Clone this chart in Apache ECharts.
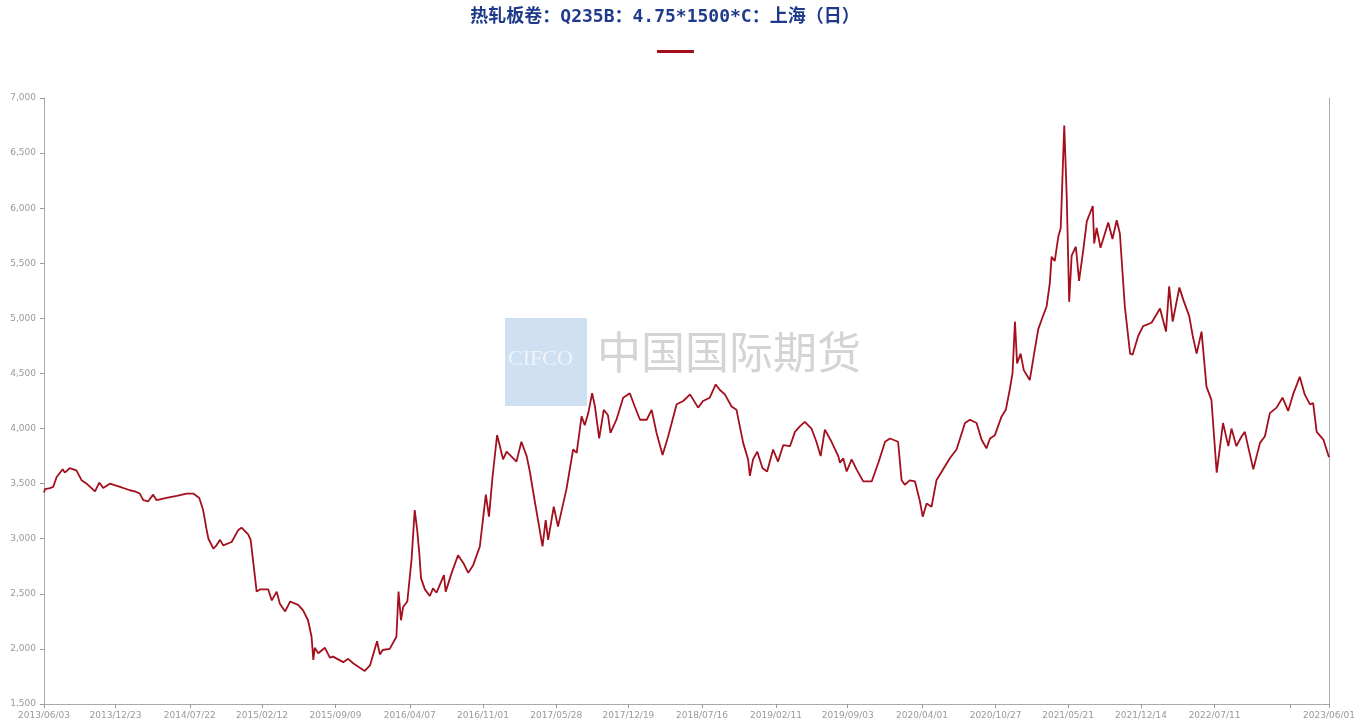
<!DOCTYPE html>
<html>
<head>
<meta charset="utf-8">
<script src="https://cdn.jsdelivr.net/npm/echarts@6/dist/echarts.min.js"></script>
<style>
html,body{margin:0;padding:0;background:#fff;}
#chart{width:1360px;height:728px;}
</style>
</head>
<body>
<div id="chart"></div>
<script>
const titleText = '热轧板卷：Q235B：4.75*1500*C：上海（日）';
const seriesName = ' ';
const tickLabels = ['2013/06/03','2013/12/23','2014/07/22','2015/02/12','2015/09/09','2016/04/07','2016/11/01','2017/05/28','2017/12/19','2018/07/16','2019/02/11','2019/09/03','2020/04/01','2020/10/27','2021/05/21','2021/12/14','2022/07/11','2023/06/01'];
const extraTicks = ['2023/02/10'];

const dates = [
'2013-06-03','2013-06-06','2013-06-20','2013-06-29','2013-07-09','2013-07-26','2013-08-01','2013-08-15','2013-09-03','2013-09-18',
'2013-10-02','2013-10-26','2013-11-07','2013-11-18','2013-12-07','2014-01-05','2014-02-02','2014-02-16','2014-03-02','2014-03-12',
'2014-03-26','2014-04-09','2014-04-19','2014-05-17','2014-06-15','2014-07-13','2014-08-01','2014-08-18','2014-08-29','2014-09-08',
'2014-09-13','2014-09-27','2014-10-06','2014-10-16','2014-10-25','2014-11-18','2014-12-07','2014-12-16','2015-01-04','2015-01-11',
'2015-01-23','2015-01-28','2015-02-06','2015-03-02','2015-03-12','2015-03-26','2015-04-04','2015-04-19','2015-05-03','2015-05-26',
'2015-06-09','2015-06-23','2015-07-03','2015-07-08','2015-07-12','2015-07-22','2015-08-10','2015-08-24','2015-09-02','2015-10-01',
'2015-10-15','2015-10-29','2015-12-01','2015-12-16','2016-01-05','2016-01-13','2016-01-21','2016-02-10','2016-02-29','2016-03-06',
'2016-03-13','2016-03-19','2016-03-31','2016-04-12','2016-04-21','2016-04-28','2016-05-04','2016-05-09','2016-05-20','2016-06-03',
'2016-06-12','2016-06-22','2016-07-13','2016-07-18','2016-08-04','2016-08-22','2016-09-06','2016-09-20','2016-10-04','2016-10-23',
'2016-11-09','2016-11-18','2016-11-28','2016-12-11','2016-12-19','2016-12-28','2017-01-07','2017-01-26','2017-02-04','2017-02-18',
'2017-03-05','2017-03-14','2017-03-28','2017-04-11','2017-04-19','2017-04-28','2017-05-05','2017-05-21','2017-06-02','2017-06-26',
'2017-07-15','2017-07-25','2017-08-08','2017-08-17','2017-08-27','2017-09-07','2017-09-15','2017-09-27','2017-10-10','2017-10-22',
'2017-10-29','2017-11-15','2017-12-04','2017-12-23','2018-01-06','2018-01-21','2018-02-09','2018-02-23','2018-03-09','2018-03-26',
'2018-04-11','2018-05-05','2018-05-24','2018-06-12','2018-07-05','2018-07-19','2018-08-07','2018-08-24','2018-09-05','2018-09-19',
'2018-10-08','2018-10-22','2018-11-10','2018-11-24','2018-11-29','2018-12-08','2018-12-20','2019-01-04','2019-01-17','2019-02-03',
'2019-02-17','2019-03-04','2019-03-23','2019-04-06','2019-04-20','2019-05-04','2019-05-23','2019-06-06','2019-06-18','2019-06-30',
'2019-07-19','2019-08-07','2019-08-12','2019-08-21','2019-08-31','2019-09-14','2019-09-28','2019-10-17','2019-11-10','2019-11-29',
'2019-12-18','2020-01-01','2020-01-24','2020-02-03','2020-02-12','2020-02-26','2020-03-12','2020-03-26','2020-04-03','2020-04-14',
'2020-04-28','2020-05-12','2020-05-31','2020-06-19','2020-07-08','2020-08-01','2020-08-15','2020-09-03','2020-09-17','2020-10-01',
'2020-10-11','2020-10-25','2020-11-13','2020-11-25','2020-12-06','2020-12-14','2020-12-21','2020-12-27','2021-01-06','2021-01-15',
'2021-02-01','2021-02-15','2021-02-25','2021-03-07','2021-03-21','2021-03-30','2021-04-04','2021-04-13','2021-04-23','2021-04-30',
'2021-05-10','2021-05-17','2021-05-24','2021-05-31','2021-06-12','2021-06-21','2021-07-03','2021-07-13','2021-07-30','2021-08-03',
'2021-08-10','2021-08-21','2021-09-12','2021-09-24','2021-10-06','2021-10-15','2021-10-29','2021-11-13','2021-11-20','2021-12-06',
'2021-12-20','2022-01-13','2022-02-06','2022-02-23','2022-03-04','2022-03-14','2022-04-02','2022-04-13','2022-04-30','2022-05-10',
'2022-05-21','2022-06-04','2022-06-18','2022-07-02','2022-07-17','2022-08-04','2022-08-19','2022-08-28','2022-09-11','2022-09-26',
'2022-10-05','2022-10-14','2022-10-29','2022-11-17','2022-12-01','2022-12-15','2023-01-03','2023-01-20','2023-02-05','2023-02-19',
'2023-03-10','2023-03-24','2023-04-08','2023-04-17','2023-04-27','2023-05-16','2023-06-01'
];

const prices = [
3420,3450,3460,3470,3560,3630,3600,3640,3620,3530,
3500,3430,3510,3460,3500,3470,3440,3430,3410,3350,
3340,3400,3350,3370,3390,3410,3410,3370,3260,3080,
3000,2910,2940,2990,2940,2970,3080,3100,3040,2990,
2660,2520,2540,2540,2440,2520,2410,2340,2430,2400,
2350,2260,2110,1900,2010,1960,2010,1920,1930,1880,
1910,1870,1800,1850,2070,1950,1990,2000,2110,2520,
2260,2380,2430,2810,3260,3080,2870,2640,2540,2480,
2550,2510,2670,2520,2690,2850,2780,2690,2760,2930,
3400,3200,3560,3940,3840,3720,3790,3730,3700,3880,
3750,3610,3340,3080,2930,3170,2990,3290,3110,3450,
3810,3780,4110,4030,4140,4320,4200,3910,4170,4120,
3960,4080,4280,4320,4200,4080,4080,4170,3960,3760,
3930,4220,4250,4310,4190,4250,4280,4400,4350,4310,
4200,4170,3870,3720,3570,3720,3790,3640,3610,3810,
3700,3850,3840,3970,4020,4060,4000,3880,3750,3990,
3880,3750,3690,3730,3610,3720,3630,3520,3520,3690,
3880,3910,3880,3530,3490,3530,3520,3340,3200,3320,
3290,3530,3630,3730,3810,4050,4080,4050,3900,3820,
3910,3940,4110,4170,4350,4500,4970,4590,4680,4530,
4440,4710,4900,4990,5110,5320,5560,5520,5740,5820,
6750,6110,5150,5570,5650,5340,5620,5880,6020,5680,
5820,5640,5870,5720,5890,5770,5110,4680,4670,4840,
4930,4960,5090,4880,5290,4970,5280,5170,5020,4840,
4680,4880,4380,4260,3600,4050,3840,4000,3840,3930,
3970,3840,3630,3870,3930,4140,4190,4280,4160,4310,
4470,4310,4220,4230,3970,3900,3740
];

function toTs(s){
  const p = s.split(/[-\/]/).map(Number);
  return Date.UTC(p[0], p[1]-1, p[2]);
}
function pad(n){return n<10?'0'+n:''+n;}
function fmtDate(v){
  const d = new Date(v);
  return d.getUTCFullYear()+'/'+pad(d.getUTCMonth()+1)+'/'+pad(d.getUTCDate());
}
function fmtNum(v){
  return String(v).replace(/\B(?=(\d{3})+(?!\d))/g, ',');
}

const seriesData = dates.map((d,i)=>[toTs(d), prices[i]]);
const labelTs = tickLabels.map(toTs);
const tickTs = labelTs.concat(extraTicks.map(toTs));

const chart = echarts.init(document.getElementById('chart'), null, {renderer:'canvas'});
chart.setOption({
  animation:false,
  backgroundColor:'#ffffff',
  title:{
    text:titleText,
    left:660,
    textAlign:'center',
    top:3,
    textStyle:{color:'#1f3a8a',fontSize:18,fontWeight:'bold',fontFamily:'"DejaVu Sans Mono", "Noto Sans CJK SC", monospace'}
  },
  legend:{
    data:[seriesName],
    left:652,
    top:42,
    icon:'rect',
    itemWidth:37,
    itemHeight:3,
    itemGap:4,
    textStyle:{color:'#ccc',fontSize:9}
  },
  graphic:[
    {type:'rect',left:505,top:318,z:0,shape:{width:82,height:88},style:{fill:'#cfe0f2'}},
    {type:'text',left:508,top:348,z:1,style:{text:'CIFCO',fill:'#eef4fa',font:'22px "Liberation Serif", serif'}},
    {type:'text',left:597,top:330,z:1,style:{text:'中国国际期货',fill:'#d4d4d4',font:'44px "Noto Sans CJK SC"'}}
  ],
  grid:{left:44,right:31,top:98,bottom:24,containLabel:false},
  xAxis:{
    type:'value',
    min:toTs('2013-06-03'),
    max:toTs('2023-06-01'),
    axisLine:{show:true,lineStyle:{color:'#aaaaaa',width:1}},
    axisTick:{show:true,length:4,lineStyle:{color:'#999'},customValues:tickTs},
    splitLine:{show:false},
    axisLabel:{customValues:labelTs,formatter:fmtDate,color:'#999',fontSize:9,margin:7,fontFamily:'DejaVu Sans'}
  },
  yAxis:[{
    type:'value',
    min:1500,
    max:7000,
    interval:500,
    axisLine:{show:true,lineStyle:{color:'#aaaaaa',width:1}},
    axisTick:{show:true,length:4,lineStyle:{color:'#999'}},
    splitLine:{show:false},
    axisLabel:{formatter:fmtNum,color:'#999',fontSize:9,margin:8,fontFamily:'DejaVu Sans'}
  },{
    type:'value',
    min:1500,
    max:7000,
    interval:500,
    position:'right',
    axisLine:{show:true,lineStyle:{color:'#aaaaaa',width:1}},
    axisTick:{show:false},
    axisLabel:{show:false},
    splitLine:{show:false}
  }],
  series:[{
    name:seriesName,
    type:'line',
    data:seriesData,
    showSymbol:false,
    symbol:'none',
    z:5,
    lineStyle:{color:'#a30f1c',width:1.8},
    itemStyle:{color:'#a30f1c'}
  }]
});
</script>
</body>
</html>
